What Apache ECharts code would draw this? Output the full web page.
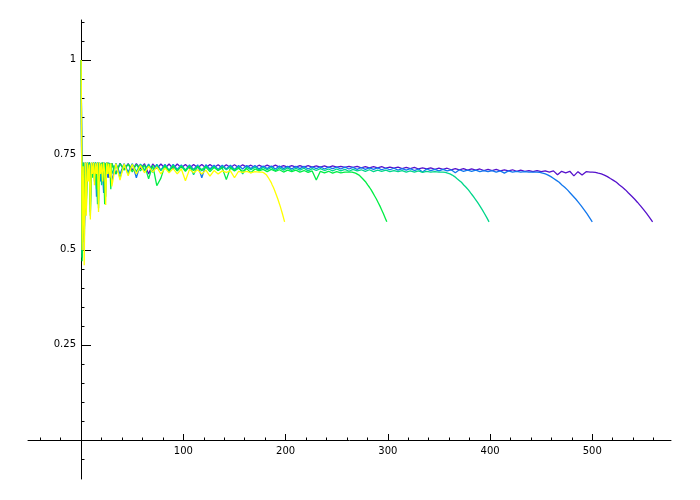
<!DOCTYPE html>
<html>
<head>
<meta charset="utf-8">
<script src="https://cdn.jsdelivr.net/npm/echarts@6/dist/echarts.min.js"></script>
<style>
  html, body { margin: 0; padding: 0; background: #fff; }
  #main { width: 700px; height: 500px; }
</style>
</head>
<body>
<div id="main"></div>
<script>
// x grid: early part x = 0..29 step 1, then x = 30, 34, ... step 4, then the tail (own x values)
var EARLY_STEP = 1;
var MID_START = 30;
var MID_STEP = 4;

var xMajorTicks = [100, 200, 300, 400, 500];
var xMinorTicks = [-40, -20, 20, 40, 60, 80, 120, 140, 160, 180, 220, 240, 260, 280,
    320, 340, 360, 380, 420, 440, 460, 480, 520, 540, 560];
var yMajorTicks = [0.25, 0.5, 0.75, 1];
var yMinorTicks = [-0.05, 0.05, 0.1, 0.15, 0.2, 0.3, 0.35, 0.4, 0.45, 0.55, 0.6, 0.65, 0.7,
    0.8, 0.85, 0.9, 0.95, 1.05, 1.1];

var seriesColors = ['#5511cc', '#1177ee', '#00d68a', '#00ee44', '#ffff00'];

// shared drop of the end curves (y values below the flat level)
var tailY = [0.705, 0.704, 0.702, 0.700, 0.697, 0.693, 0.688, 0.683, 0.678, 0.671, 0.665,
    0.658, 0.650, 0.642, 0.634, 0.625, 0.616, 0.606, 0.596, 0.585, 0.574];

// purple, ends at 560
var purpleEarly = [1.0, 0.48, 0.72, 0.53, 0.73, 0.66, 0.728, 0.70, 0.73, 0.64,
    0.728, 0.70, 0.73, 0.70, 0.728, 0.67, 0.73, 0.70, 0.728, 0.71,
    0.68, 0.73, 0.71, 0.728, 0.70, 0.73, 0.71, 0.69, 0.728, 0.71];
var purpleMid = [0.728, 0.70, 0.728, 0.712, 0.727, 0.71, 0.727, 0.714, 0.727, 0.70,
    0.726, 0.714, 0.726, 0.715, 0.726, 0.714, 0.726, 0.716, 0.725, 0.715,
    0.725, 0.716, 0.725, 0.716, 0.725, 0.717, 0.724, 0.716, 0.724, 0.717,
    0.724, 0.717, 0.724, 0.718, 0.723, 0.717, 0.723, 0.718, 0.723, 0.718,
    0.723, 0.718, 0.722, 0.718, 0.722, 0.718, 0.722, 0.718, 0.722, 0.718,
    0.721, 0.718, 0.721, 0.717, 0.721, 0.718, 0.72, 0.717, 0.72, 0.717,
    0.72, 0.716, 0.719, 0.716, 0.719, 0.716, 0.719, 0.715, 0.718, 0.715,
    0.718, 0.714, 0.717, 0.714, 0.717, 0.713, 0.716, 0.713, 0.716, 0.712,
    0.715, 0.712, 0.715, 0.711, 0.714, 0.711, 0.714, 0.71, 0.713, 0.71,
    0.713, 0.709, 0.712, 0.709, 0.712, 0.708, 0.711, 0.708, 0.711, 0.707,
    0.71, 0.707, 0.709, 0.706, 0.709, 0.706, 0.708, 0.705, 0.708, 0.698,
    0.707, 0.703, 0.707, 0.695, 0.706, 0.697, 0.706, 0.705];
var purpleTailX = [500, 503, 505.9, 508.9, 511.8, 514.8, 517.7, 520.7, 523.6, 526.6, 529.5,
    532.5, 535.4, 538.4, 541.3, 544.3, 547.2, 550.2, 553.1, 556.1, 559];

// blue, ends at 500
var blueEarly = [1.0, 0.49, 0.73, 0.50, 0.72, 0.63, 0.73, 0.70, 0.73, 0.62,
    0.728, 0.70, 0.73, 0.69, 0.73, 0.64, 0.728, 0.70, 0.73, 0.68,
    0.728, 0.70, 0.65, 0.73, 0.70, 0.728, 0.69, 0.73, 0.70, 0.728];
var blueMid = [0.68, 0.728, 0.70, 0.727, 0.705, 0.727, 0.69, 0.726, 0.71, 0.726,
    0.706, 0.725, 0.71, 0.725, 0.708, 0.725, 0.712, 0.724, 0.71, 0.724,
    0.712, 0.724, 0.69, 0.724, 0.713, 0.723, 0.712, 0.723, 0.713, 0.723,
    0.712, 0.722, 0.713, 0.722, 0.714, 0.722, 0.713, 0.721, 0.714, 0.721,
    0.713, 0.721, 0.714, 0.72, 0.713, 0.72, 0.714, 0.72, 0.713, 0.719,
    0.714, 0.719, 0.713, 0.718, 0.714, 0.718, 0.713, 0.718, 0.713, 0.717,
    0.712, 0.717, 0.712, 0.716, 0.712, 0.716, 0.711, 0.715, 0.711, 0.715,
    0.71, 0.714, 0.71, 0.714, 0.709, 0.713, 0.705, 0.713, 0.709, 0.712,
    0.708, 0.712, 0.708, 0.711, 0.703, 0.711, 0.707, 0.71, 0.707, 0.71,
    0.706, 0.709, 0.706, 0.709, 0.705, 0.708, 0.702, 0.708, 0.705, 0.707,
    0.705, 0.706, 0.705, 0.705];
var blueTailX = [446, 448.7, 451.4, 454.1, 456.8, 459.5, 462.2, 464.9, 467.6, 470.3, 473,
    475.7, 478.4, 481.1, 483.8, 486.5, 489.2, 491.9, 494.6, 497.3, 500];

// teal, ends at 400
var tealEarly = [1.0, 0.48, 0.72, 0.55, 0.73, 0.62, 0.728, 0.69, 0.73, 0.60,
    0.73, 0.70, 0.728, 0.68, 0.73, 0.70, 0.62, 0.73, 0.70, 0.728,
    0.67, 0.73, 0.70, 0.728, 0.64, 0.73, 0.70, 0.728, 0.69, 0.727];
var tealMid = [0.70, 0.727, 0.69, 0.726, 0.70, 0.726, 0.706, 0.725, 0.708, 0.724,
    0.704, 0.724, 0.709, 0.723, 0.71, 0.723, 0.708, 0.722, 0.71, 0.722,
    0.698, 0.721, 0.711, 0.721, 0.71, 0.72, 0.709, 0.72, 0.711, 0.719,
    0.71, 0.719, 0.70, 0.718, 0.711, 0.718, 0.71, 0.717, 0.711, 0.717,
    0.709, 0.716, 0.71, 0.716, 0.709, 0.715, 0.71, 0.715, 0.708, 0.714,
    0.709, 0.714, 0.709, 0.713, 0.708, 0.713, 0.708, 0.712, 0.707, 0.712,
    0.708, 0.711, 0.707, 0.711, 0.706, 0.71, 0.707, 0.71, 0.706, 0.709,
    0.706, 0.709, 0.705, 0.708, 0.705, 0.708, 0.704, 0.707, 0.705, 0.706,
    0.705];
var tealTailX = [354, 356.3, 358.5, 360.8, 363, 365.3, 367.5, 369.8, 372, 374.3, 376.5,
    378.8, 381, 383.3, 385.5, 387.8, 390, 392.3, 394.5, 396.8, 399];

// green, ends at 300
var greenEarly = [1.0, 0.47, 0.73, 0.52, 0.725, 0.60, 0.73, 0.70, 0.73, 0.59,
    0.728, 0.69, 0.73, 0.70, 0.73, 0.66, 0.73, 0.61, 0.728, 0.70,
    0.73, 0.69, 0.73, 0.62, 0.728, 0.70, 0.73, 0.70, 0.728, 0.66];
var greenMid = [0.728, 0.70, 0.727, 0.71, 0.726, 0.705, 0.725, 0.708, 0.724, 0.687,
    0.723, 0.669, 0.689, 0.722, 0.706, 0.721, 0.708, 0.72, 0.707, 0.72,
    0.709, 0.719, 0.708, 0.718, 0.706, 0.717, 0.709, 0.716, 0.685, 0.716,
    0.708, 0.715, 0.707, 0.714, 0.703, 0.713, 0.708, 0.712, 0.706, 0.712,
    0.707, 0.711, 0.705, 0.71, 0.706, 0.71, 0.705, 0.709, 0.704, 0.708,
    0.684, 0.707, 0.703, 0.707, 0.702, 0.706, 0.703, 0.705, 0.705];
var greenTailX = [265, 266.7, 268.4, 270.1, 271.8, 273.5, 275.2, 276.9, 278.6, 280.3, 282,
    283.7, 285.4, 287.1, 288.8, 290.5, 292.2, 293.9, 295.6, 297.3, 299];

// yellow, ends at 200
var yellowEarly = [1.0, 0.50, 0.72, 0.46, 0.73, 0.59, 0.73, 0.68, 0.725, 0.58,
    0.73, 0.70, 0.73, 0.67, 0.728, 0.70, 0.73, 0.60, 0.73, 0.70,
    0.727, 0.68, 0.73, 0.705, 0.618, 0.73, 0.70, 0.727, 0.69, 0.728];
var yellowMid = [0.667, 0.727, 0.684, 0.726, 0.695, 0.725, 0.70, 0.722, 0.703, 0.72,
    0.705, 0.718, 0.70, 0.716, 0.703, 0.714, 0.70, 0.713, 0.682, 0.712,
    0.703, 0.711, 0.70, 0.71, 0.694, 0.709, 0.70, 0.708, 0.704, 0.708,
    0.69, 0.707, 0.704, 0.707, 0.703, 0.706, 0.705];
var yellowTailX = [177, 178.1, 179.2, 180.3, 181.4, 182.5, 183.6, 184.7, 185.8, 186.9, 188,
    189.1, 190.2, 191.3, 192.4, 193.5, 194.6, 195.7, 196.8, 197.9, 199];

function buildPoints(early, mid, tailX) {
    var pts = [];
    early.forEach(function (y, i) { pts.push([i * EARLY_STEP, y]); });
    mid.forEach(function (y, i) { pts.push([MID_START + i * MID_STEP, y]); });
    tailX.forEach(function (x, i) { pts.push([x, tailY[i]]); });
    return pts;
}

var lines = [
    buildPoints(purpleEarly, purpleMid, purpleTailX),
    buildPoints(blueEarly, blueMid, blueTailX),
    buildPoints(tealEarly, tealMid, tealTailX),
    buildPoints(greenEarly, greenMid, greenTailX),
    buildPoints(yellowEarly, yellowMid, yellowTailX)
];

var myChart = echarts.init(document.getElementById('main'));
var axisColor = '#000';
var labelFont = { fontSize: 10, color: '#000', fontFamily: 'DejaVu Sans' };

// grid 0: plot area whose bottom edge is y = 0 (x axis sits there)
// grid 1: same heights, left edge at x = 0 (y axis sits there)
myChart.setOption({
    animation: false,
    grid: [
        { left: 28, right: 29, top: 20, bottom: 60, containLabel: false },
        { left: 81, right: 29, top: 20, bottom: 21, containLabel: false }
    ],
    xAxis: [
        {
            gridIndex: 0, type: 'value', min: -52, max: 577, position: 'bottom',
            axisLine: { onZero: false, lineStyle: { color: axisColor, width: 1 } },
            axisTick: { inside: true, length: 6, customValues: xMajorTicks, lineStyle: { color: axisColor } },
            axisLabel: Object.assign({ customValues: xMajorTicks, margin: 6 }, labelFont),
            splitLine: { show: false }
        },
        {
            gridIndex: 0, type: 'value', min: -52, max: 577, position: 'bottom',
            axisLine: { show: false, onZero: false },
            axisTick: { inside: true, length: 2.5, customValues: xMinorTicks, lineStyle: { color: axisColor } },
            axisLabel: { show: false },
            splitLine: { show: false }
        },
        { gridIndex: 1, type: 'value', min: 0, max: 1, show: false }
    ],
    yAxis: [
        { gridIndex: 0, type: 'value', min: 0, max: 1.105, show: false },
        {
            gridIndex: 1, type: 'value', min: -0.103, max: 1.105, position: 'left',
            axisLine: { onZero: false, lineStyle: { color: axisColor, width: 1 } },
            axisTick: { inside: true, length: 10, customValues: yMajorTicks, lineStyle: { color: axisColor } },
            axisLabel: Object.assign({
                customValues: yMajorTicks, margin: 5,
                formatter: function (v) { return String(v); }
            }, labelFont),
            splitLine: { show: false }
        },
        {
            gridIndex: 1, type: 'value', min: -0.103, max: 1.105, position: 'left',
            axisLine: { show: false, onZero: false },
            axisTick: { inside: true, length: 3.5, customValues: yMinorTicks, lineStyle: { color: axisColor } },
            axisLabel: { show: false },
            splitLine: { show: false }
        }
    ],
    series: lines.map(function (pts, i) {
        return {
            type: 'line',
            xAxisIndex: 0,
            yAxisIndex: 0,
            data: pts,
            showSymbol: false,
            clip: false,
            lineStyle: { color: seriesColors[i], width: 1.3 },
            z: 2 + i
        };
    })
});
</script>
</body>
</html>
